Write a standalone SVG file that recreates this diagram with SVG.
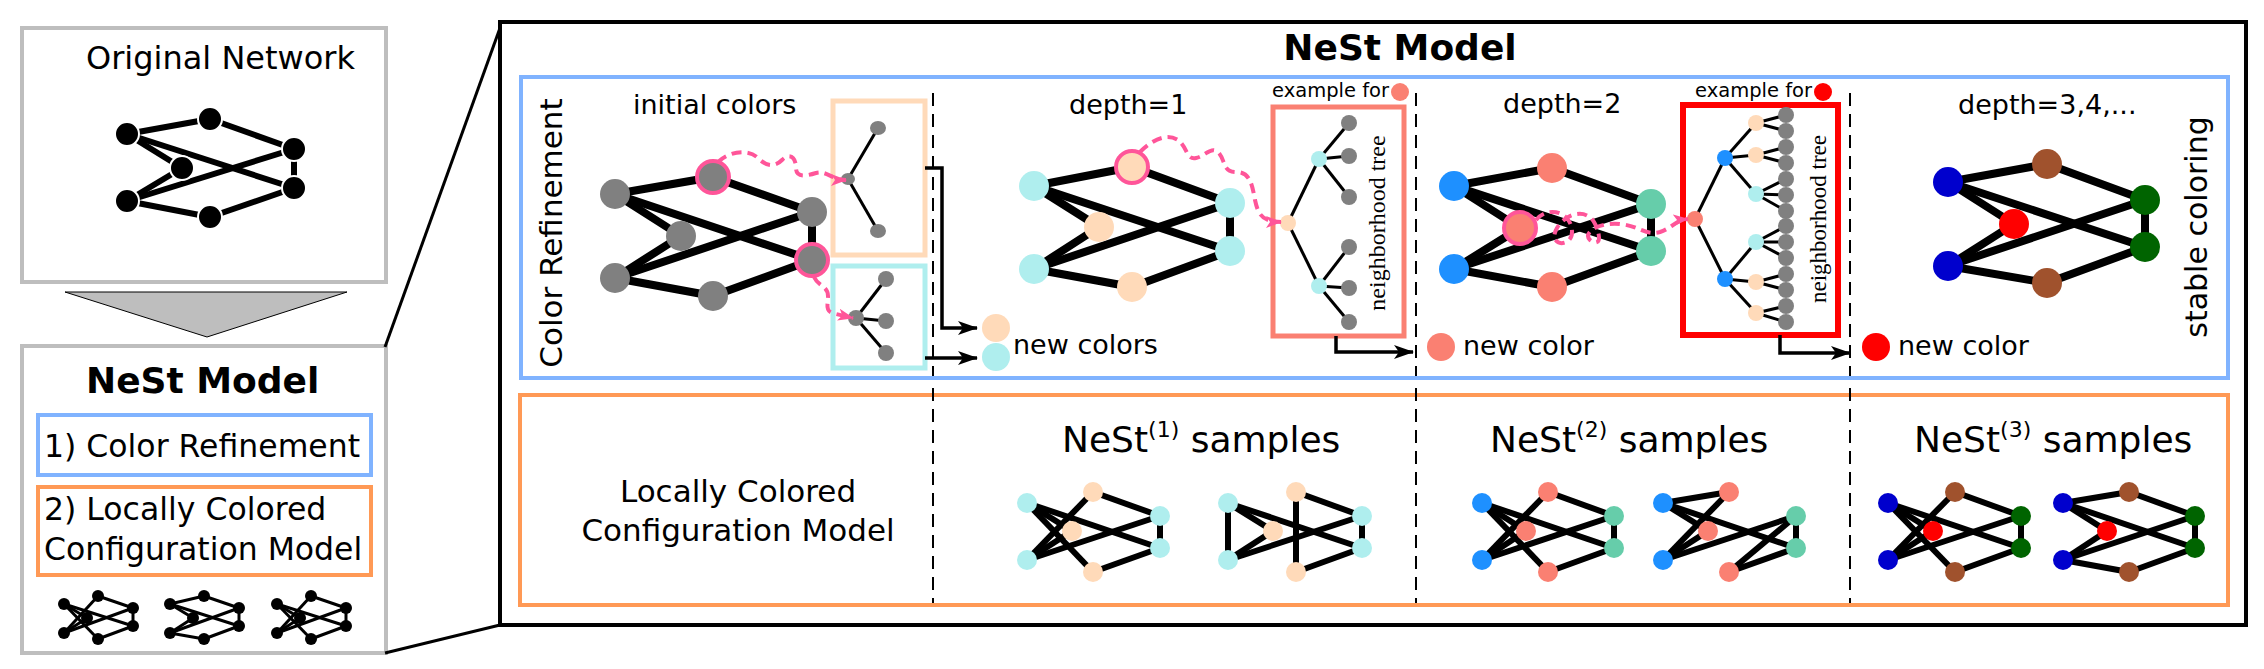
<svg xmlns="http://www.w3.org/2000/svg" width="2264" height="669" viewBox="0 0 2264 669">
<style>
text{font-family:"DejaVu Sans","Liberation Sans",sans-serif;fill:#000}
.serif{font-family:"Liberation Serif","DejaVu Serif",serif}
.e8 line{stroke:#000;stroke-width:8;stroke-linecap:round}
.e6 line{stroke:#000;stroke-width:6}
.e3 line{stroke:#000;stroke-width:3}
.frame{fill:none;stroke:#bebebe;stroke-width:4}
.dash{stroke:#000;stroke-width:2;stroke-dasharray:13 8;fill:none}
.pink{fill:none;stroke:#ff5599;stroke-width:4;stroke-dasharray:10 6}
.conn{fill:none;stroke:#000;stroke-width:3.5}
.gray{fill:#808080}.peach{fill:#ffdab9}.cyan{fill:#afeeee}.salmon{fill:#fa8072}
.dblue{fill:#1e90ff}.aqua{fill:#66cdaa}.mblue{fill:#0000cd}.sienna{fill:#a0522d}
.red{fill:#ff0000}.dgreen{fill:#006400}
.ring{stroke:#ff5599;stroke-width:4}
</style>
<defs>
<marker id="arr" viewBox="0 0 20 14" refX="19" refY="7" markerWidth="20" markerHeight="14" markerUnits="userSpaceOnUse" orient="auto"><path d="M0,0 L20,7 L0,14 L5,7 Z" fill="#000"/></marker>
<marker id="parr" viewBox="0 0 16 12" refX="15" refY="6" markerWidth="16" markerHeight="12" markerUnits="userSpaceOnUse" orient="auto"><path d="M0,0 L16,6 L0,12 L4,6 Z" fill="#ff5599"/></marker>
</defs>
<rect width="2264" height="669" fill="#fff"/>

<!-- Original network -->
<g id="original-network">
<rect class="frame" x="22" y="28" width="364" height="254"/>
<text x="86" y="69" font-size="32">Original Network</text>
<g class="e6">
<line x1="127" y1="134" x2="210" y2="119"/><line x1="127" y1="134" x2="182" y2="168"/><line x1="127" y1="134" x2="294" y2="188"/>
<line x1="127" y1="201" x2="182" y2="168"/><line x1="127" y1="201" x2="294" y2="149"/><line x1="127" y1="201" x2="210" y2="217"/>
<line x1="210" y1="119" x2="294" y2="149"/><line x1="210" y1="217" x2="294" y2="188"/><line x1="294" y1="149" x2="294" y2="188"/>
</g>
<g fill="#000" stroke="#fff" stroke-width="2">
<circle cx="127" cy="134" r="12"/><circle cx="127" cy="201" r="12"/><circle cx="210" cy="119" r="12"/><circle cx="182" cy="168" r="12"/><circle cx="210" cy="217" r="12"/><circle cx="294" cy="149" r="12"/><circle cx="294" cy="188" r="12"/>
</g>
</g>

<g id="down-arrow"><polygon points="65,292 347,292 207,337" fill="#bebebe" stroke="#000" stroke-width="1"/></g>

<!-- Small NeSt model box -->
<g id="nest-small">
<rect class="frame" x="22" y="346" width="364" height="307"/>
<text x="86" y="393" font-size="36" font-weight="bold">NeSt Model</text>
<rect x="38" y="415" width="333" height="60" fill="none" stroke="#80b3ff" stroke-width="4"/>
<text x="44" y="457" font-size="31.5">1) Color Refinement</text>
<rect x="38" y="487" width="333" height="88" fill="none" stroke="#ff9955" stroke-width="4"/>
<text x="44" y="520" font-size="31.5">2) Locally Colored</text>
<text x="44" y="560" font-size="31.5">Configuration Model</text>
<g id="mini1">
<g class="e3">
<line x1="64" y1="604" x2="87" y2="618"/><line x1="64" y1="604" x2="98" y2="639"/><line x1="64" y1="604" x2="133" y2="626"/>
<line x1="64" y1="633" x2="98" y2="596"/><line x1="64" y1="633" x2="87" y2="618"/><line x1="64" y1="633" x2="133" y2="608"/>
<line x1="98" y1="596" x2="133" y2="608"/><line x1="98" y1="639" x2="133" y2="626"/><line x1="133" y1="608" x2="133" y2="626"/>
</g>
<g fill="#000"><circle cx="64" cy="604" r="6"/><circle cx="64" cy="633" r="6"/><circle cx="98" cy="596" r="6"/><circle cx="87" cy="618" r="6"/><circle cx="98" cy="639" r="6"/><circle cx="133" cy="608" r="6"/><circle cx="133" cy="626" r="6"/></g>
</g>
<g id="mini2" transform="translate(106,0)">
<g class="e3">
<line x1="64" y1="604" x2="98" y2="596"/><line x1="64" y1="604" x2="87" y2="618"/><line x1="64" y1="604" x2="133" y2="626"/>
<line x1="64" y1="633" x2="87" y2="618"/><line x1="64" y1="633" x2="133" y2="608"/><line x1="64" y1="633" x2="98" y2="639"/>
<line x1="98" y1="596" x2="133" y2="608"/><line x1="98" y1="639" x2="133" y2="626"/><line x1="133" y1="608" x2="133" y2="626"/>
</g>
<g fill="#000"><circle cx="64" cy="604" r="6"/><circle cx="64" cy="633" r="6"/><circle cx="98" cy="596" r="6"/><circle cx="87" cy="618" r="6"/><circle cx="98" cy="639" r="6"/><circle cx="133" cy="608" r="6"/><circle cx="133" cy="626" r="6"/></g>
</g>
<g id="mini3" transform="translate(213,0)">
<g class="e3">
<line x1="64" y1="604" x2="87" y2="618"/><line x1="64" y1="604" x2="98" y2="639"/><line x1="64" y1="604" x2="133" y2="626"/>
<line x1="64" y1="633" x2="98" y2="596"/><line x1="64" y1="633" x2="87" y2="618"/><line x1="64" y1="633" x2="133" y2="608"/>
<line x1="98" y1="596" x2="133" y2="608"/><line x1="98" y1="639" x2="133" y2="626"/><line x1="133" y1="608" x2="133" y2="626"/>
</g>
<g fill="#000"><circle cx="64" cy="604" r="6"/><circle cx="64" cy="633" r="6"/><circle cx="98" cy="596" r="6"/><circle cx="87" cy="618" r="6"/><circle cx="98" cy="639" r="6"/><circle cx="133" cy="608" r="6"/><circle cx="133" cy="626" r="6"/></g>
</g>
</g>

<!-- zoom lines -->
<g id="zoom-lines" stroke="#000" stroke-width="3">
<line x1="385" y1="347" x2="500" y2="28"/>
<line x1="385" y1="653" x2="500" y2="625"/>
</g>

<!-- Big NeSt box -->
<g id="nest-big">
<rect x="500" y="22" width="1746" height="603" fill="none" stroke="#000" stroke-width="4"/>
<text x="1400" y="60" font-size="36" font-weight="bold" text-anchor="middle">NeSt Model</text>
<rect x="521" y="77" width="1707" height="301" fill="none" stroke="#80b3ff" stroke-width="4"/>
<rect x="520" y="395" width="1708" height="210" fill="none" stroke="#ff9955" stroke-width="4"/>
<text transform="translate(562,233) rotate(-90)" font-size="31" text-anchor="middle">Color Refinement</text>
<text transform="translate(2207,227) rotate(-90)" font-size="30" text-anchor="middle">stable coloring</text>
</g>

<g id="separators">
<line class="dash" x1="933" y1="93" x2="933" y2="376"/><line class="dash" x1="933" y1="388" x2="933" y2="603"/>
<line class="dash" x1="1416" y1="93" x2="1416" y2="376"/><line class="dash" x1="1416" y1="388" x2="1416" y2="603"/>
<line class="dash" x1="1850" y1="93" x2="1850" y2="376"/><line class="dash" x1="1850" y1="388" x2="1850" y2="603"/>
</g>

<!-- Initial colors -->
<g id="initial-colors">
<text x="633" y="114" font-size="27">initial colors</text>
<g class="e8">
<line x1="615" y1="194" x2="713" y2="177"/><line x1="615" y1="194" x2="681" y2="236"/><line x1="615" y1="194" x2="812" y2="260"/>
<line x1="615" y1="278" x2="681" y2="236"/><line x1="615" y1="278" x2="812" y2="212"/><line x1="615" y1="278" x2="713" y2="296"/>
<line x1="713" y1="177" x2="812" y2="212"/><line x1="713" y1="296" x2="812" y2="260"/><line x1="812" y1="212" x2="812" y2="260"/>
</g>
<g class="gray">
<circle cx="615" cy="194" r="15"/><circle cx="615" cy="278" r="15"/><circle cx="681" cy="236" r="15"/><circle cx="713" cy="296" r="15"/><circle cx="812" cy="212" r="15"/>
<circle class="ring" cx="713" cy="177" r="16"/><circle class="ring" cx="812" cy="260" r="16"/>
</g>
</g>
<g id="tree-init-1">
<rect x="833" y="101" width="92" height="154" fill="none" stroke="#ffdab9" stroke-width="5"/>
<g class="e3"><line x1="848" y1="179" x2="878" y2="128"/><line x1="848" y1="179" x2="878" y2="231"/></g>
<g class="gray"><ellipse cx="848" cy="179" rx="7" ry="6"/><ellipse cx="878" cy="128" rx="8" ry="7"/><ellipse cx="878" cy="231" rx="8" ry="7"/></g>
</g>
<g id="tree-init-2">
<rect x="833" y="266" width="92" height="102" fill="none" stroke="#afeeee" stroke-width="5"/>
<g class="e3"><line x1="856" y1="318" x2="886" y2="279"/><line x1="856" y1="318" x2="886" y2="321"/><line x1="856" y1="318" x2="886" y2="353"/></g>
<g class="gray"><circle cx="856" cy="318" r="8"/><circle cx="886" cy="279" r="8"/><circle cx="886" cy="321" r="8"/><circle cx="886" cy="353" r="8"/></g>
</g>
<g id="legend-1">
<circle class="peach" cx="996" cy="328" r="14"/><circle class="cyan" cx="996" cy="357" r="14"/>
<text x="1013" y="354" font-size="27">new colors</text>
</g>

<!-- depth 1 -->
<g id="depth-1">
<text x="1069" y="114" font-size="27">depth=1</text>
<g class="e8">
<line x1="1034" y1="186" x2="1132" y2="167"/><line x1="1034" y1="186" x2="1099" y2="227"/><line x1="1034" y1="186" x2="1230" y2="251"/>
<line x1="1034" y1="269" x2="1099" y2="227"/><line x1="1034" y1="269" x2="1230" y2="203"/><line x1="1034" y1="269" x2="1132" y2="287"/>
<line x1="1132" y1="167" x2="1230" y2="203"/><line x1="1132" y1="287" x2="1230" y2="251"/><line x1="1230" y1="203" x2="1230" y2="251"/>
</g>
<circle class="cyan" cx="1034" cy="186" r="15"/><circle class="cyan" cx="1034" cy="269" r="15"/>
<circle class="peach" cx="1099" cy="227" r="15"/><circle class="peach" cx="1132" cy="287" r="15"/>
<circle class="peach ring" cx="1132" cy="167" r="16"/>
<circle class="cyan" cx="1230" cy="203" r="15"/><circle class="cyan" cx="1230" cy="251" r="15"/>
</g>
<g id="tree-depth-1">
<text x="1272" y="97" font-size="19.5">example for</text>
<circle class="salmon" cx="1400" cy="92" r="9"/>
<rect x="1273" y="107" width="131" height="229" fill="none" stroke="#fa8072" stroke-width="5"/>
<g class="e3">
<line x1="1288" y1="223" x2="1319" y2="159"/><line x1="1288" y1="223" x2="1319" y2="286"/>
<line x1="1319" y1="159" x2="1349" y2="123"/><line x1="1319" y1="159" x2="1349" y2="156"/><line x1="1319" y1="159" x2="1349" y2="197"/>
<line x1="1319" y1="286" x2="1349" y2="247"/><line x1="1319" y1="286" x2="1349" y2="288"/><line x1="1319" y1="286" x2="1349" y2="322"/>
</g>
<circle class="peach" cx="1288" cy="223" r="8"/>
<circle class="cyan" cx="1319" cy="159" r="8"/><circle class="cyan" cx="1319" cy="286" r="8"/>
<g class="gray"><circle cx="1349" cy="123" r="8"/><circle cx="1349" cy="156" r="8"/><circle cx="1349" cy="197" r="8"/><circle cx="1349" cy="247" r="8"/><circle cx="1349" cy="288" r="8"/><circle cx="1349" cy="322" r="8"/></g>
<text class="serif" transform="translate(1385,223) rotate(-90)" font-size="24" text-anchor="middle">neighborhood tree</text>
</g>
<g id="legend-2">
<circle class="salmon" cx="1441" cy="347" r="14"/>
<text x="1463" y="355" font-size="27">new color</text>
</g>

<!-- depth 2 -->
<g id="depth-2">
<text x="1503" y="113" font-size="27">depth=2</text>
<g class="e8">
<line x1="1454" y1="186" x2="1552" y2="168"/><line x1="1454" y1="186" x2="1520" y2="228"/><line x1="1454" y1="186" x2="1651" y2="251"/>
<line x1="1454" y1="269" x2="1520" y2="228"/><line x1="1454" y1="269" x2="1651" y2="204"/><line x1="1454" y1="269" x2="1552" y2="287"/>
<line x1="1552" y1="168" x2="1651" y2="204"/><line x1="1552" y1="287" x2="1651" y2="251"/><line x1="1651" y1="204" x2="1651" y2="251"/>
</g>
<circle class="dblue" cx="1454" cy="186" r="15"/><circle class="dblue" cx="1454" cy="269" r="15"/>
<circle class="salmon" cx="1552" cy="168" r="15"/><circle class="salmon" cx="1552" cy="287" r="15"/>
<circle class="salmon ring" cx="1520" cy="228" r="16"/>
<circle class="aqua" cx="1651" cy="204" r="15"/><circle class="aqua" cx="1651" cy="251" r="15"/>
</g>
<g id="tree-depth-2">
<text x="1695" y="97" font-size="19.5">example for</text>
<circle class="red" cx="1823" cy="92" r="9"/>
<rect x="1683" y="105" width="155" height="230" fill="none" stroke="#ff0000" stroke-width="6"/>
<g class="e3">
<line x1="1695" y1="219" x2="1725" y2="158"/><line x1="1695" y1="219" x2="1725" y2="279"/>
<line x1="1725" y1="158" x2="1756" y2="123"/><line x1="1725" y1="158" x2="1756" y2="155"/><line x1="1725" y1="158" x2="1756" y2="194"/>
<line x1="1725" y1="279" x2="1756" y2="242"/><line x1="1725" y1="279" x2="1756" y2="282"/><line x1="1725" y1="279" x2="1756" y2="313"/>
<line x1="1756" y1="123" x2="1786" y2="115"/><line x1="1756" y1="123" x2="1786" y2="131"/>
<line x1="1756" y1="155" x2="1786" y2="147"/><line x1="1756" y1="155" x2="1786" y2="163"/>
<line x1="1756" y1="194" x2="1786" y2="179"/><line x1="1756" y1="194" x2="1786" y2="195"/><line x1="1756" y1="194" x2="1786" y2="211"/>
<line x1="1756" y1="242" x2="1786" y2="226"/><line x1="1756" y1="242" x2="1786" y2="242"/><line x1="1756" y1="242" x2="1786" y2="258"/>
<line x1="1756" y1="282" x2="1786" y2="274"/><line x1="1756" y1="282" x2="1786" y2="290"/>
<line x1="1756" y1="313" x2="1786" y2="306"/><line x1="1756" y1="313" x2="1786" y2="322"/>
</g>
<circle class="salmon" cx="1695" cy="219" r="8"/>
<circle class="dblue" cx="1725" cy="158" r="8"/><circle class="dblue" cx="1725" cy="279" r="8"/>
<circle class="peach" cx="1756" cy="123" r="8"/><circle class="peach" cx="1756" cy="155" r="8"/><circle class="cyan" cx="1756" cy="194" r="8"/>
<circle class="cyan" cx="1756" cy="242" r="8"/><circle class="peach" cx="1756" cy="282" r="8"/><circle class="peach" cx="1756" cy="313" r="8"/>
<g class="gray">
<circle cx="1786" cy="115" r="8"/><circle cx="1786" cy="131" r="8"/><circle cx="1786" cy="147" r="8"/><circle cx="1786" cy="163" r="8"/><circle cx="1786" cy="179" r="8"/><circle cx="1786" cy="195" r="8"/><circle cx="1786" cy="211" r="8"/>
<circle cx="1786" cy="226" r="8"/><circle cx="1786" cy="242" r="8"/><circle cx="1786" cy="258" r="8"/><circle cx="1786" cy="274" r="8"/><circle cx="1786" cy="290" r="8"/><circle cx="1786" cy="306" r="8"/><circle cx="1786" cy="322" r="8"/>
</g>
<text class="serif" transform="translate(1826,219) rotate(-90)" font-size="23" text-anchor="middle">neighborhood tree</text>
</g>
<g id="legend-3">
<circle class="red" cx="1876" cy="347" r="14"/>
<text x="1898" y="355" font-size="27">new color</text>
</g>

<!-- depth 3 -->
<g id="depth-3">
<text x="1958" y="114" font-size="27">depth=3,4,...</text>
<g class="e8">
<line x1="1948" y1="182" x2="2047" y2="164"/><line x1="1948" y1="182" x2="2014" y2="224"/><line x1="1948" y1="182" x2="2145" y2="247"/>
<line x1="1948" y1="266" x2="2014" y2="224"/><line x1="1948" y1="266" x2="2145" y2="200"/><line x1="1948" y1="266" x2="2047" y2="283"/>
<line x1="2047" y1="164" x2="2145" y2="200"/><line x1="2047" y1="283" x2="2145" y2="247"/><line x1="2145" y1="200" x2="2145" y2="247"/>
</g>
<circle class="mblue" cx="1948" cy="182" r="15"/><circle class="mblue" cx="1948" cy="266" r="15"/>
<circle class="sienna" cx="2047" cy="164" r="15"/><circle class="red" cx="2014" cy="224" r="15"/><circle class="sienna" cx="2047" cy="283" r="15"/>
<circle class="dgreen" cx="2145" cy="200" r="15"/><circle class="dgreen" cx="2145" cy="247" r="15"/>
</g>

<!-- Connectors -->
<g id="connectors">
<path class="conn" d="M925,168 H942 V328 H977" marker-end="url(#arr)"/>
<path class="conn" d="M925,358 H977" marker-end="url(#arr)"/>
<path class="conn" d="M1336,336 V352 H1413" marker-end="url(#arr)"/>
<path class="conn" d="M1780,335 V353 H1850" marker-end="url(#arr)"/>
<path class="pink" d="M718,162 C728,152 748,148 758,158 C766,166 774,168 782,160 C790,152 796,158 796,168 C796,178 806,176 816,173 C826,170 832,180 846,180" marker-end="url(#parr)"/>
<path class="pink" d="M814,277 C818,286 828,286 828,296 C828,306 824,312 836,314 L853,318" marker-end="url(#parr)"/>
<path class="pink" d="M1140,152 C1150,142 1165,132 1178,140 C1188,148 1186,160 1196,158 C1206,156 1210,146 1218,152 C1226,160 1222,172 1236,172 C1250,172 1252,184 1255,200 C1258,214 1262,222 1281,222" marker-end="url(#parr)"/>
<path class="pink" d="M1536,220 C1548,205 1572,212 1572,232 C1572,248 1548,246 1556,230 C1562,216 1584,206 1594,222 C1602,236 1600,248 1590,240 C1582,232 1600,222 1620,224 C1640,226 1645,236 1660,232 C1672,228 1676,220 1688,219" marker-end="url(#parr)"/>
</g>

<!-- Lower row -->
<g id="lccm-label">
<text x="738" y="502" font-size="31" text-anchor="middle">Locally Colored</text>
<text x="738" y="541" font-size="31" text-anchor="middle">Configuration Model</text>
</g>
<g id="samples-1">
<text x="1062" y="452" font-size="36">NeSt<tspan font-size="22" dy="-15">(1)</tspan><tspan dy="15"> samples</tspan></text>
<g class="e6">
<line x1="1027" y1="503" x2="1072" y2="531"/><line x1="1027" y1="503" x2="1093" y2="572"/><line x1="1027" y1="503" x2="1160" y2="548"/>
<line x1="1027" y1="560" x2="1093" y2="492"/><line x1="1027" y1="560" x2="1072" y2="531"/><line x1="1027" y1="560" x2="1160" y2="516"/>
<line x1="1093" y1="492" x2="1160" y2="516"/><line x1="1093" y1="572" x2="1160" y2="548"/><line x1="1160" y1="516" x2="1160" y2="548"/>
<line x1="1228" y1="503" x2="1228" y2="560"/><line x1="1228" y1="503" x2="1273" y2="531"/><line x1="1228" y1="503" x2="1362" y2="548"/>
<line x1="1228" y1="560" x2="1273" y2="531"/><line x1="1228" y1="560" x2="1362" y2="516"/><line x1="1296" y1="492" x2="1296" y2="572"/>
<line x1="1296" y1="492" x2="1362" y2="516"/><line x1="1296" y1="572" x2="1362" y2="548"/><line x1="1362" y1="516" x2="1362" y2="548"/>
</g>
<g class="cyan"><circle cx="1027" cy="503" r="10"/><circle cx="1027" cy="560" r="10"/><circle cx="1160" cy="516" r="10"/><circle cx="1160" cy="548" r="10"/>
<circle cx="1228" cy="503" r="10"/><circle cx="1228" cy="560" r="10"/><circle cx="1362" cy="516" r="10"/><circle cx="1362" cy="548" r="10"/></g>
<g class="peach"><circle cx="1093" cy="492" r="10"/><circle cx="1072" cy="531" r="10"/><circle cx="1093" cy="572" r="10"/>
<circle cx="1296" cy="492" r="10"/><circle cx="1273" cy="531" r="10"/><circle cx="1296" cy="572" r="10"/></g>
</g>
<g id="samples-2">
<text x="1490" y="452" font-size="36">NeSt<tspan font-size="22" dy="-15">(2)</tspan><tspan dy="15"> samples</tspan></text>
<g class="e6">
<line x1="1482" y1="503" x2="1526" y2="531"/><line x1="1482" y1="503" x2="1548" y2="572"/><line x1="1482" y1="503" x2="1614" y2="548"/>
<line x1="1482" y1="560" x2="1548" y2="492"/><line x1="1482" y1="560" x2="1526" y2="531"/><line x1="1482" y1="560" x2="1614" y2="516"/>
<line x1="1548" y1="492" x2="1614" y2="516"/><line x1="1548" y1="572" x2="1614" y2="548"/><line x1="1614" y1="516" x2="1614" y2="548"/>
<line x1="1663" y1="503" x2="1729" y2="492"/><line x1="1663" y1="503" x2="1708" y2="531"/><line x1="1663" y1="503" x2="1796" y2="548"/>
<line x1="1663" y1="560" x2="1729" y2="492"/><line x1="1663" y1="560" x2="1708" y2="531"/><line x1="1663" y1="560" x2="1796" y2="516"/>
<line x1="1729" y1="572" x2="1796" y2="516"/><line x1="1729" y1="572" x2="1796" y2="548"/><line x1="1796" y1="516" x2="1796" y2="548"/>
</g>
<g class="dblue"><circle cx="1482" cy="503" r="10"/><circle cx="1482" cy="560" r="10"/><circle cx="1663" cy="503" r="10"/><circle cx="1663" cy="560" r="10"/></g>
<g class="salmon"><circle cx="1548" cy="492" r="10"/><circle cx="1526" cy="531" r="10"/><circle cx="1548" cy="572" r="10"/>
<circle cx="1729" cy="492" r="10"/><circle cx="1708" cy="531" r="10"/><circle cx="1729" cy="572" r="10"/></g>
<g class="aqua"><circle cx="1614" cy="516" r="10"/><circle cx="1614" cy="548" r="10"/><circle cx="1796" cy="516" r="10"/><circle cx="1796" cy="548" r="10"/></g>
</g>
<g id="samples-3">
<text x="1914" y="452" font-size="36">NeSt<tspan font-size="22" dy="-15">(3)</tspan><tspan dy="15"> samples</tspan></text>
<g class="e6">
<line x1="1888" y1="503" x2="1933" y2="531"/><line x1="1888" y1="503" x2="1955" y2="572"/><line x1="1888" y1="503" x2="2021" y2="548"/>
<line x1="1888" y1="560" x2="1955" y2="492"/><line x1="1888" y1="560" x2="1933" y2="531"/><line x1="1888" y1="560" x2="2021" y2="516"/>
<line x1="1955" y1="492" x2="2021" y2="516"/><line x1="1955" y1="572" x2="2021" y2="548"/><line x1="2021" y1="516" x2="2021" y2="548"/>
<line x1="2063" y1="503" x2="2129" y2="492"/><line x1="2063" y1="503" x2="2107" y2="531"/><line x1="2063" y1="503" x2="2195" y2="548"/>
<line x1="2063" y1="560" x2="2107" y2="531"/><line x1="2063" y1="560" x2="2195" y2="516"/><line x1="2063" y1="560" x2="2129" y2="572"/>
<line x1="2129" y1="492" x2="2195" y2="516"/><line x1="2129" y1="572" x2="2195" y2="548"/><line x1="2195" y1="516" x2="2195" y2="548"/>
</g>
<g class="mblue"><circle cx="1888" cy="503" r="10"/><circle cx="1888" cy="560" r="10"/><circle cx="2063" cy="503" r="10"/><circle cx="2063" cy="560" r="10"/></g>
<g class="sienna"><circle cx="1955" cy="492" r="10"/><circle cx="1955" cy="572" r="10"/><circle cx="2129" cy="492" r="10"/><circle cx="2129" cy="572" r="10"/></g>
<g class="red"><circle cx="1933" cy="531" r="10"/><circle cx="2107" cy="531" r="10"/></g>
<g class="dgreen"><circle cx="2021" cy="516" r="10"/><circle cx="2021" cy="548" r="10"/><circle cx="2195" cy="516" r="10"/><circle cx="2195" cy="548" r="10"/></g>
</g>
</svg>
